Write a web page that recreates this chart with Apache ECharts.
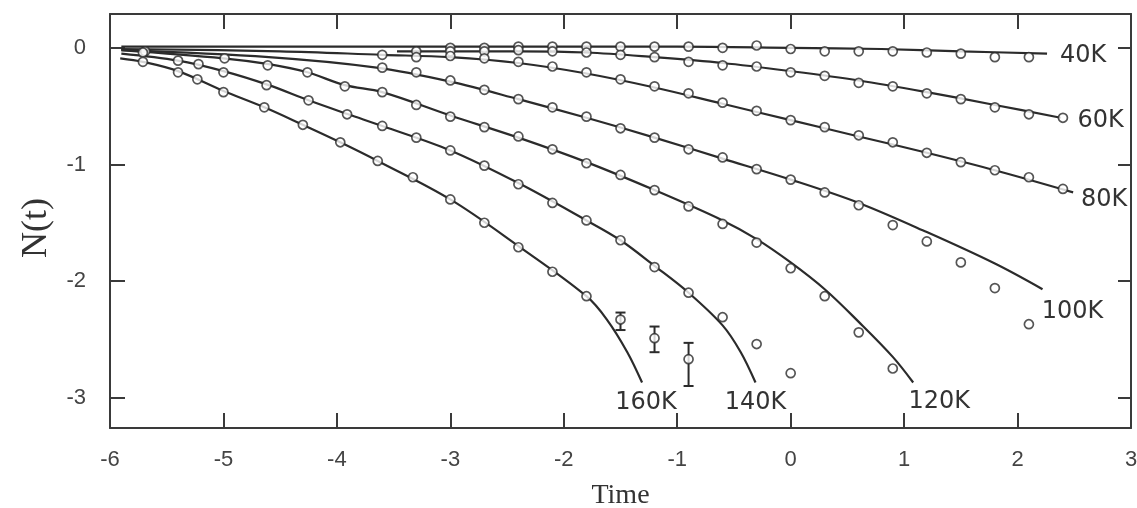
<!DOCTYPE html>
<html><head><meta charset="utf-8">
<script src="https://cdn.jsdelivr.net/npm/echarts@6/dist/echarts.min.js"></script>
<style>html,body{margin:0;padding:0;background:#fff}#c{width:1137px;height:508px}</style>
</head><body><div id="c"></div>
<script>
// ---- data (time, N(t)) ----
const xTicks = [-6, -5, -4, -3, -2, -1, 0, 1, 2, 3];
const yTicks = [-3, -2, -1, 0];
const seriesNames = ['40K', '60K', '80K', '100K', '120K', '140K', '160K'];

const pts40 = [[-3.0,0],[-2.7,0],[-2.4,0.01],[-2.1,0.01],[-1.8,0.01],[-1.5,0.01],[-1.2,0.01],[-0.9,0.01],[-0.6,0],[-0.3,0.02],[0,-0.01],[0.3,-0.03],[0.6,-0.03],[0.9,-0.03],[1.2,-0.04],[1.5,-0.05],[1.8,-0.08],[2.1,-0.08]];
const curve40 = [[-5.9,0.01],[-3,0.01],[-1,0.01],[0,0.0],[0.8,-0.01],[1.5,-0.03],[2.26,-0.05]];

const pts60 = [[-3.3,-0.03],[-3.0,-0.03],[-2.7,-0.03],[-2.4,-0.02],[-2.1,-0.03],[-1.8,-0.04],[-1.5,-0.06],[-1.2,-0.08],[-0.9,-0.12],[-0.6,-0.15],[-0.3,-0.16],[0,-0.21],[0.3,-0.24],[0.6,-0.3],[0.9,-0.33],[1.2,-0.39],[1.5,-0.44],[1.8,-0.51],[2.1,-0.57],[2.4,-0.6]];
const curve60 = [[-3.47,-0.03],[-2.4,-0.03],[-1.8,-0.04],[-1.2,-0.08],[-0.6,-0.13],[0,-0.2],[0.6,-0.28],[1.2,-0.38],[1.8,-0.49],[2.38,-0.6]];

const pts80 = [[-3.6,-0.06],[-3.3,-0.08],[-3.0,-0.07],[-2.7,-0.09],[-2.4,-0.12],[-2.1,-0.16],[-1.8,-0.21],[-1.5,-0.27],[-1.2,-0.33],[-0.9,-0.39],[-0.6,-0.47],[-0.3,-0.54],[0,-0.62],[0.3,-0.68],[0.6,-0.75],[0.9,-0.81],[1.2,-0.9],[1.5,-0.98],[1.8,-1.05],[2.1,-1.11],[2.4,-1.21]];
const curve80 = [[-5.9,-0.01],[-4.5,-0.03],[-3.6,-0.06],[-3.0,-0.08],[-2.4,-0.13],[-1.8,-0.22],[-1.2,-0.34],[-0.6,-0.48],[0,-0.62],[0.6,-0.76],[1.2,-0.9],[1.8,-1.05],[2.49,-1.24]];

const pts100 = [[-3.6,-0.17],[-3.3,-0.21],[-3.0,-0.28],[-2.7,-0.36],[-2.4,-0.44],[-2.1,-0.51],[-1.8,-0.59],[-1.5,-0.69],[-1.2,-0.77],[-0.9,-0.87],[-0.6,-0.94],[-0.3,-1.04],[0,-1.13],[0.3,-1.24],[0.6,-1.35],[0.9,-1.52],[1.2,-1.66],[1.5,-1.84],[1.8,-2.06],[2.1,-2.37]];
const curve100 = [[-5.9,-0.02],[-4.6,-0.08],[-3.65,-0.17],[-3.0,-0.29],[-2.4,-0.44],[-1.8,-0.6],[-1.2,-0.77],[-0.6,-0.95],[0,-1.13],[0.6,-1.33],[1.2,-1.58],[1.8,-1.85],[2.22,-2.07]];

const pts120 = [[-5.69,-0.03],[-4.99,-0.09],[-4.61,-0.15],[-4.26,-0.21],[-3.93,-0.33],[-3.6,-0.38],[-3.3,-0.49],[-3.0,-0.59],[-2.7,-0.68],[-2.4,-0.76],[-2.1,-0.87],[-1.8,-0.99],[-1.5,-1.09],[-1.2,-1.22],[-0.9,-1.36],[-0.6,-1.51],[-0.3,-1.67],[0,-1.89],[0.3,-2.13],[0.6,-2.44],[0.9,-2.75]];
const curve120 = [[-5.9,-0.02],[-5.0,-0.09],[-4.6,-0.14],[-4.26,-0.21],[-3.93,-0.32],[-3.6,-0.38],[-3.0,-0.58],[-2.4,-0.77],[-1.8,-0.98],[-1.2,-1.22],[-0.6,-1.48],[-0.3,-1.64],[0,-1.84],[0.3,-2.07],[0.6,-2.35],[0.9,-2.65],[1.08,-2.87]];

const pts140 = [[-5.71,-0.04],[-5.4,-0.11],[-5.22,-0.14],[-5.0,-0.21],[-4.62,-0.32],[-4.25,-0.45],[-3.91,-0.57],[-3.6,-0.67],[-3.3,-0.77],[-3.0,-0.88],[-2.7,-1.01],[-2.4,-1.17],[-2.1,-1.33],[-1.8,-1.48],[-1.5,-1.65],[-1.2,-1.88],[-0.9,-2.1],[-0.6,-2.31],[-0.3,-2.54],[0,-2.79]];
const curve140 = [[-5.9,-0.05],[-5.4,-0.11],[-5.0,-0.2],[-4.6,-0.32],[-4.25,-0.45],[-3.9,-0.57],[-3.6,-0.67],[-3.0,-0.88],[-2.4,-1.16],[-1.8,-1.48],[-1.5,-1.65],[-1.2,-1.87],[-0.9,-2.1],[-0.6,-2.38],[-0.44,-2.61],[-0.31,-2.87]];

const pts160 = [[-5.71,-0.12],[-5.4,-0.21],[-5.23,-0.27],[-5.0,-0.38],[-4.64,-0.51],[-4.3,-0.66],[-3.97,-0.81],[-3.64,-0.97],[-3.33,-1.11],[-3.0,-1.3],[-2.7,-1.5],[-2.4,-1.71],[-2.1,-1.92],[-1.8,-2.13],[-1.5,-2.33],[-1.2,-2.49],[-0.9,-2.67]];
const curve160 = [[-5.91,-0.09],[-5.71,-0.12],[-5.4,-0.2],[-5.0,-0.37],[-4.64,-0.51],[-4.3,-0.66],[-3.97,-0.81],[-3.64,-0.97],[-3.0,-1.3],[-2.4,-1.7],[-1.8,-2.13],[-1.62,-2.33],[-1.44,-2.61],[-1.31,-2.87]];
// error bars on 160K: [time, low, high]
const err160 = [[-1.5,-2.42,-2.27],[-1.2,-2.61,-2.39],[-0.9,-2.9,-2.53]];

const allPts = [pts40, pts60, pts80, pts100, pts120, pts140, pts160];
const allCurves = [curve40, curve60, curve80, curve100, curve120, curve140, curve160];
// label offsets from curve end, in px
const labelOffsets = [[36,2],[40,3],[31,7],[30,23],[26,19],[0,20],[4,20]];

const INK = '#2b2b2b';
const chart = echarts.init(document.getElementById('c'), null, {renderer:'canvas'});

function axisCommon(pos, showLabel) {
  return {
    position: pos,
    axisLine: {show: true, onZero: false, lineStyle: {color: '#3a3a3a', width: 2}},
    axisTick: {show: true, inside: true, length: 15, lineStyle: {color: '#3a3a3a', width: 2}},
    axisLabel: {show: showLabel, color: '#444', fontFamily: 'Liberation Sans', fontSize: 22},
    splitLine: {show: false}
  };
}

const series = [];
seriesNames.forEach((nm, i) => {
  series.push({
    name: nm + ' fit', type: 'line', data: allCurves[i], smooth: 0.35, showSymbol: false,
    lineStyle: {color: INK, width: 2.2}, z: 2, silent: true
  });
  series.push({
    name: nm, type: 'scatter', data: allPts[i], symbol: 'circle', symbolSize: 9,
    itemStyle: {color: '#fff', borderColor: INK, borderWidth: 1.7}, z: 4, silent: true
  });
});
series.push({
  name: '160K err', type: 'custom', data: err160, z: 3, silent: true,
  encode: {x: 0, y: [1, 2]},
  renderItem: function (params, api) {
    const x = api.value(0);
    const lo = api.coord([x, api.value(1)]);
    const hi = api.coord([x, api.value(2)]);
    const w = 5;
    const st = {stroke: INK, lineWidth: 2};
    return {type: 'group', children: [
      {type: 'line', shape: {x1: lo[0], y1: lo[1], x2: hi[0], y2: hi[1]}, style: st},
      {type: 'line', shape: {x1: lo[0]-w, y1: lo[1], x2: lo[0]+w, y2: lo[1]}, style: st},
      {type: 'line', shape: {x1: hi[0]-w, y1: hi[1], x2: hi[0]+w, y2: hi[1]}, style: st}
    ]};
  }
});

const xA = axisCommon('bottom', true);
Object.assign(xA, {type: 'value', min: -6, max: 3, interval: 1, gridIndex: 0,
  name: 'Time', nameLocation: 'middle', nameGap: 54,
  nameTextStyle: {fontFamily: 'Liberation Serif', fontSize: 28, color: '#333'}});
xA.axisLabel.margin = 21;
const xTop = axisCommon('top', false);
Object.assign(xTop, {type: 'value', min: -6, max: 3, interval: 1});

const yA = axisCommon('left', true);
Object.assign(yA, {type: 'value', min: -3.26, max: 0.29});
yA.axisTick.customValues = yTicks;
yA.axisLabel.customValues = yTicks;
yA.axisLabel.margin = 24;
const yR = axisCommon('right', false);
Object.assign(yR, {type: 'value', min: -3.26, max: 0.29});
yR.axisTick.customValues = yTicks;
yR.axisTick.length = 13;

chart.setOption({
  backgroundColor: '#fff',
  animation: false,
  grid: {left: 110, right: 6, top: 14, bottom: 80, containLabel: false, outerBoundsMode: 'none'},
  xAxis: [xA, xTop],
  yAxis: [yA, yR],
  series: series
});

// curve labels attached to the end of each fitted curve
const g = [];
seriesNames.forEach((nm, i) => {
  const c = allCurves[i];
  const p = chart.convertToPixel({xAxisIndex: 0, yAxisIndex: 0}, c[c.length - 1]);
  g.push({type: 'text', x: p[0] + labelOffsets[i][0], y: p[1] + labelOffsets[i][1], z: 10,
    style: {text: nm, fill: '#333', font: '24px "DejaVu Sans"', align: 'center', verticalAlign: 'middle'}});
});
g.push({type: 'text', x: 37, y: 228, rotation: Math.PI / 2, z: 10,
  style: {text: 'N(t)', fill: '#333', font: '36px "Liberation Serif"', align: 'center', verticalAlign: 'middle'}});
chart.setOption({graphic: g});
</script></body></html>
